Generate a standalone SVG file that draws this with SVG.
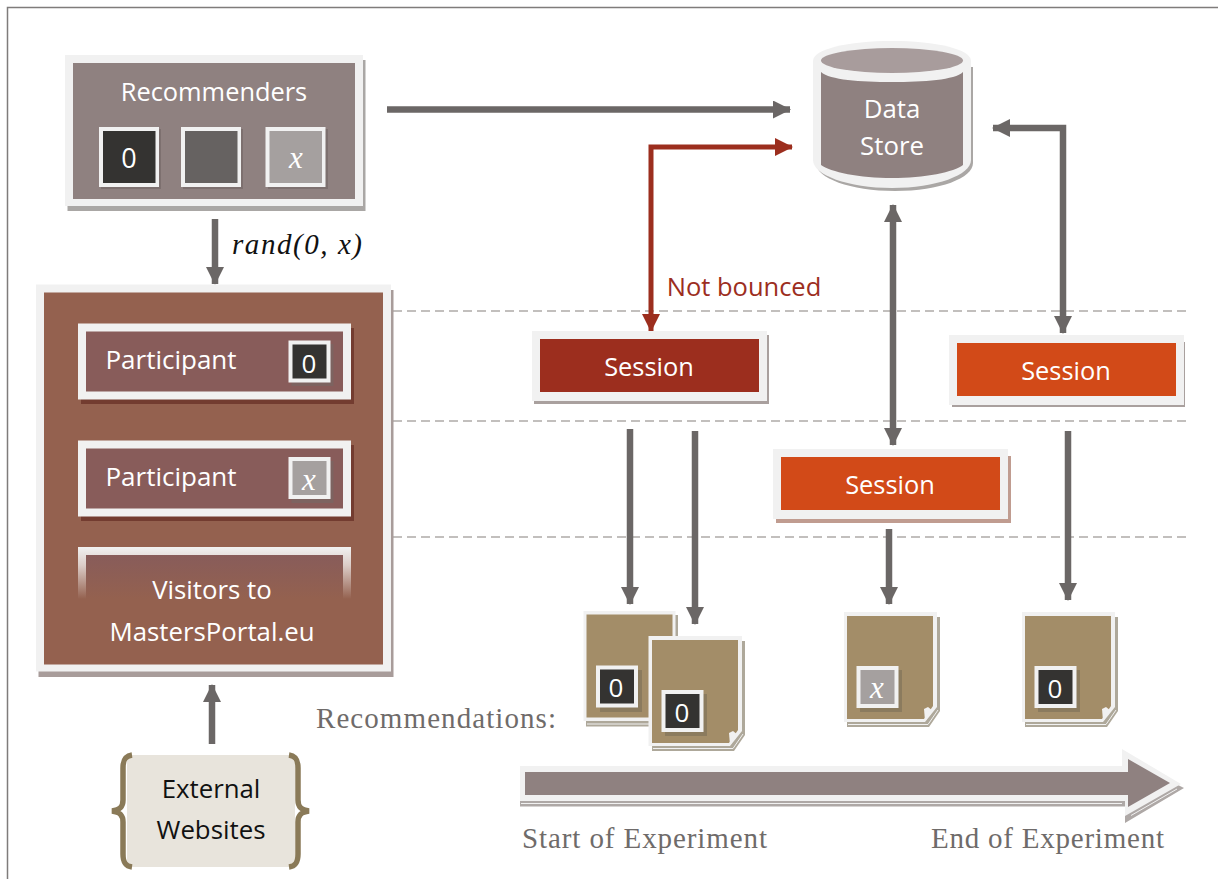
<svg xmlns="http://www.w3.org/2000/svg" width="1218" height="879" viewBox="0 0 1218 879">
<style>
text{font-family:"Open Sans","Noto Sans",sans-serif;text-anchor:middle;fill:#fff}
.s{font-family:"Liberation Serif","DejaVu Serif",serif;fill:#6f6b6a;text-anchor:start;font-size:29px}
.m{font-family:"Liberation Serif",serif;font-style:italic}
.c{fill:none;stroke:#6b6766;stroke-width:6.5}
.r{fill:none;stroke:#9c2e1e;stroke-width:5}
.d{stroke:#aeaaa8;stroke-width:1.5;stroke-dasharray:9 5;fill:none}
.o{fill:#f1f1f1}
.k{fill:#343331}
.l{fill:#a5a09f}
.sess{font-size:25.4px}
.doc{fill:#a38d68}
.fs{fill:none;stroke:#f1f1f1;stroke-width:1}
</style>
<defs>
<marker id="a" markerUnits="userSpaceOnUse" markerWidth="18" markerHeight="18" refX="17" refY="9" orient="auto-start-reverse" viewBox="0 0 18 18"><path d="M0 0L18 9L0 18Z" fill="#6b6766"/></marker>
<marker id="b" markerUnits="userSpaceOnUse" markerWidth="18" markerHeight="18" refX="17" refY="9" orient="auto-start-reverse" viewBox="0 0 18 18"><path d="M0 0L18 9L0 18Z" fill="#9c2e1e"/></marker>
<linearGradient id="f1" x1="0" y1="0" x2="0" y2="1"><stop offset="0" stop-color="#f1f1f1"/><stop offset="0.35" stop-color="#dccdc8"/><stop offset="1" stop-color="#94614f"/></linearGradient>
<linearGradient id="f2" x1="0" y1="0" x2="0" y2="1"><stop offset="0" stop-color="#885c5a"/><stop offset="1" stop-color="#94614f"/></linearGradient>
</defs>
<path d="M1218 7.500H7.500V879" fill="none" stroke="#7f7c7b" stroke-width="1.500"/>
<g id="guides">
<path class="d" d="M393 311H1186M393 421H1186M393 537H1186"/>
</g>
<g id="connectors">
<path class="c" d="M387 109.500H790" marker-end="url(#a)"/>
<path class="c" d="M215 219V284" marker-end="url(#a)"/>
<path class="c" d="M212 744V685" marker-end="url(#a)"/>
<path class="r" d="M792 147H651V331" marker-start="url(#b)" marker-end="url(#b)"/>
<path class="c" d="M893 205V445" marker-start="url(#a)" marker-end="url(#a)"/>
<path class="c" d="M993 128H1063V333" marker-start="url(#a)" marker-end="url(#a)"/>
<path class="c" d="M630 429V604" marker-end="url(#a)"/>
<path class="c" d="M695 431V624" marker-end="url(#a)"/>
<path class="c" d="M889 529V604" marker-end="url(#a)"/>
<path class="c" d="M1068 431V600" marker-end="url(#a)"/>
</g>
<g id="recommenders">
<rect x="67.500" y="60" width="298" height="151" fill="#aaa7a5"/>
<rect class="o" x="65" y="55" width="298" height="151"/>
<rect x="73" y="63" width="282" height="136" fill="#8f8180"/>
<text x="214" y="101" font-size="25.400">Recommenders</text>
<rect x="101" y="129" width="60" height="60" fill="#7d706f"/><rect class="o" x="99" y="127" width="60" height="60"/><rect class="k" x="103" y="131" width="52.500" height="52"/>
<text x="129" y="168" font-size="27">0</text>
<rect x="183" y="129" width="60" height="60" fill="#7d706f"/><rect class="o" x="181" y="127" width="60" height="60"/><rect x="185" y="131" width="52.500" height="52" fill="#666261"/>
<rect x="268" y="129" width="60" height="60" fill="#7d706f"/><rect class="o" x="265.500" y="127" width="60" height="60"/><rect class="l" x="269.500" y="131" width="52.500" height="52"/>
<text class="m" x="296" y="168" font-size="31">x</text>
</g>
<text x="297" y="254" font-size="29" textLength="130" lengthAdjust="spacing" class="m" style="fill:#111">rand(0, x)</text>
<g id="visitors">
<rect x="38.500" y="290" width="355" height="387" fill="#a89c9a"/>
<rect class="o" x="36" y="284.500" width="355" height="387"/>
<rect x="44" y="292.500" width="339" height="372" fill="#94614f"/>
<g id="participant-0">
<rect x="81" y="328" width="273" height="76" fill="#733c30"/>
<rect class="o" x="78" y="323.500" width="273" height="76"/>
<rect x="86" y="331.500" width="257" height="60" fill="#885c5a"/>
<text x="171" y="369" font-size="26">Participant</text>
<rect x="291.500" y="344" width="42" height="42" fill="#7d6360"/><rect class="o" x="288.500" y="340.500" width="42" height="42"/><rect class="k" x="292.500" y="344.500" width="34" height="34"/>
<text x="309" y="373" font-size="26">0</text>
</g>
<g id="participant-x">
<rect x="81" y="445" width="273" height="76" fill="#733c30"/>
<rect class="o" x="78" y="440.500" width="273" height="76"/>
<rect x="86" y="448.500" width="257" height="60" fill="#885c5a"/>
<text x="171" y="486" font-size="26">Participant</text>
<rect x="291.500" y="461" width="42" height="42" fill="#7d6360"/><rect class="o" x="288.500" y="457" width="42" height="42"/><rect class="l" x="292.500" y="461" width="34" height="34"/>
<text class="m" x="309" y="490" font-size="31">x</text>
</g>
<rect x="78" y="547" width="273" height="52" fill="url(#f1)"/>
<rect x="86" y="555" width="257" height="44" fill="url(#f2)"/>
<text x="212" y="599" font-size="25.800">Visitors to</text>
<text x="212" y="641" font-size="25.800">MastersPortal.eu</text>
</g>
<g id="data-store">
<path d="M816 67V163C816 178 850 191 895 191C940 191 973 178 973 163V67Z" fill="#aaa7a5"/>
<path d="M813 61V160C813 175 848 188 892 188C936 188 971 175 971 160V61C971 49 936 41 892 41C848 41 813 49 813 61Z" fill="#f1f1f1"/>
<path d="M821 72V165C830 172 860 178 892 178C924 178 955 172 963 165V72C955 80 924 82 892 82C860 82 830 80 821 72Z" fill="#8f8180"/>
<ellipse cx="892" cy="60.500" rx="71" ry="12.500" fill="#a89c9c"/>
<text x="892" y="118" font-size="25.800">Data</text>
<text x="892" y="155" font-size="25.800">Store</text>
</g>
<g id="session-1">
<rect x="534" y="335" width="235" height="69" fill="#a9a09e"/>
<rect class="o" x="532" y="331" width="235" height="70"/>
<rect x="540" y="339" width="219" height="53" fill="#9c2e1e"/>
<text x="649" y="376" class="sess">Session</text>
</g>
<g id="session-2">
<rect x="776" y="456" width="235" height="67" fill="#c09c90"/>
<rect class="o" x="773" y="449" width="235" height="70"/>
<rect x="781" y="457" width="219" height="53" fill="#d24a18"/>
<text x="890" y="494" class="sess">Session</text>
</g>
<g id="session-3">
<rect x="952" y="342" width="233" height="65" fill="#a9a09e"/>
<rect class="o" x="949" y="335" width="235" height="70"/>
<rect x="957" y="343" width="219" height="53" fill="#d24a18"/>
<text x="1066" y="380" class="sess">Session</text>
</g>
<g id="doc-1">
<path d="M586 615H678V726.500H586Z" fill="#aea89a"/>
<path class="fs" d="M587 724H678"/>
<rect class="o" x="583.500" y="611" width="92" height="110"/>
<rect class="doc" x="586.500" y="614.500" width="86" height="103"/>
<rect x="600" y="670" width="42" height="42" fill="#8b7b5e"/><rect class="o" x="596" y="665.500" width="42" height="42"/><rect class="k" x="600" y="669.500" width="34" height="34"/>
<text x="616" y="697" font-size="26">0</text>
</g>
<g id="doc-2">
<path d="M654 641H745V735L734 751H652Z" fill="#aea89a"/>
<path class="fs" d="M653 748.500H733L743 734"/>
<path class="o" d="M648.500 636H742V731L730 746H648.500Z"/>
<path class="doc" d="M652 640H738V730L729 743H652Z"/>
<path d="M729 733L733 731L738 735L730 745Z" fill="#f1f1f1"/>
<rect x="665" y="694" width="42" height="42" fill="#8b7b5e"/><rect class="o" x="661.500" y="690" width="42" height="42"/><rect class="k" x="665.500" y="694" width="34" height="34"/>
<text x="682" y="722" font-size="26">0</text>
</g>
<g id="doc-3">
<path d="M847 617H940V711L929 727H847Z" fill="#aea89a"/>
<path class="fs" d="M848 724.500H928L938 710"/>
<path class="o" d="M844 612H937V707L925 722H844Z"/>
<path class="doc" d="M847 616H933V706L924 719H847Z"/>
<path d="M924 709L928 707L933 711L925 721Z" fill="#f1f1f1"/>
<rect x="860" y="670" width="42" height="42" fill="#8b7b5e"/><rect class="o" x="856.500" y="666" width="42" height="42"/><rect class="l" x="860.500" y="670" width="34" height="34"/>
<text class="m" x="877" y="698" font-size="31">x</text>
</g>
<g id="doc-4">
<path d="M1025 617H1118V711L1107 727H1025Z" fill="#aea89a"/>
<path class="fs" d="M1026 724.500H1106L1116 710"/>
<path class="o" d="M1022 612H1115V707L1103 722H1022Z"/>
<path class="doc" d="M1025 616H1111V706L1102 719H1025Z"/>
<path d="M1102 709L1106 707L1111 711L1103 721Z" fill="#f1f1f1"/>
<rect x="1038" y="670" width="42" height="42" fill="#8b7b5e"/><rect class="o" x="1034.500" y="666" width="42" height="42"/><rect class="k" x="1038.500" y="670" width="34" height="34"/>
<text x="1055" y="698" font-size="26">0</text>
</g>
<g id="external">
<rect x="127" y="755" width="168" height="112" rx="4" fill="#e8e4dc"/>
<path d="M132 755C125 756 123 760 123 768V800C123 807 120 810 112 811C120 812 123 815 123 822V854C123 862 125 866 132 867M289 755C296 756 298 760 298 768V800C298 807 301 810 309 811C301 812 298 815 298 822V854C298 862 296 866 289 867" fill="none" stroke="#8a7a58" stroke-width="5.500"/>
<text x="211" y="798" font-size="25.800" style="fill:#111">External</text>
<text x="211" y="839" font-size="25.800" style="fill:#111">Websites</text>
</g>
<text x="744" y="296" font-size="25.500" style="fill:#9c2e1e">Not bounced</text>
<text class="s" x="316" y="728" textLength="240" lengthAdjust="spacing">Recommendations:</text>
<g id="timeline">
<path d="M520 775H1122V757L1184 788L1125 823V806.500H520Z" fill="#aea8a6"/>
<path class="fs" d="M521 803.500H1122M1131 815.500L1177 789" stroke-dasharray="none"/>
<path class="o" d="M520 766H1122V749L1181 784L1125 816V801H520Z"/>
<path d="M525 772H1128V759L1170 783L1128 807V795H525Z" fill="#8f8180"/>
</g>
<text class="s" x="522" y="848" textLength="245" lengthAdjust="spacing">Start of Experiment</text>
<text class="s" x="931" y="848" textLength="233" lengthAdjust="spacing">End of Experiment</text>
</svg>
